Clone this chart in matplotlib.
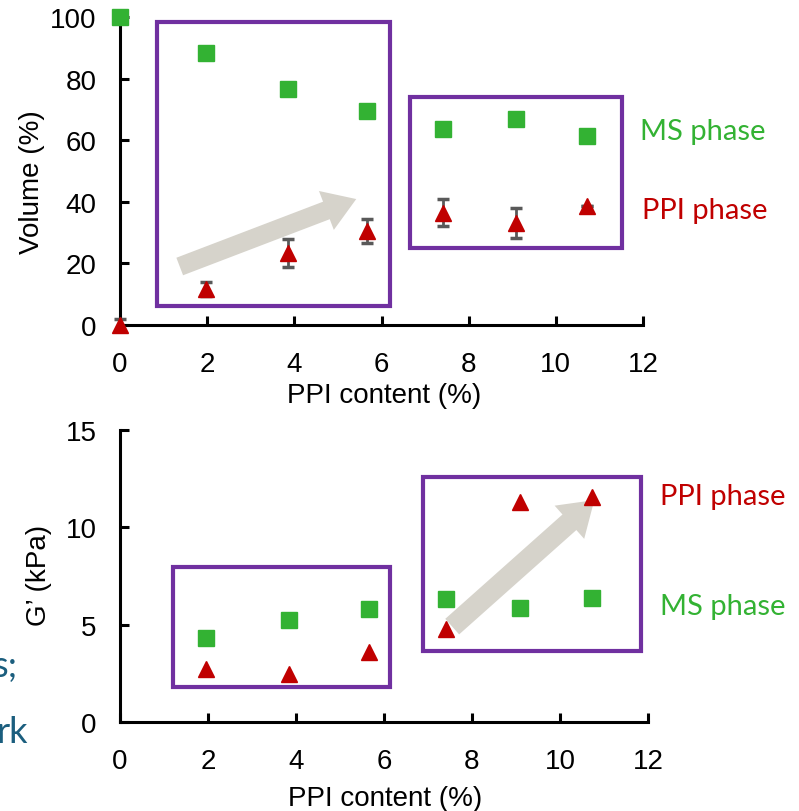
import matplotlib
matplotlib.use('Agg')
from matplotlib import pyplot as plt
from matplotlib.patches import Rectangle

# data
ppi_top = [0.0, 1.97, 3.85, 5.66, 7.41, 9.08, 10.71]
ms_vol = [100.0, 88.3, 76.6, 69.5, 63.6, 66.9, 61.4]
ppi_vol = [0.0, 11.7, 23.4, 30.5, 36.4, 33.1, 38.6]
ppi_vol_err = [2.0, 2.3, 4.6, 3.9, 4.4, 5.0, 0.0]

ppi_bot = [1.95, 3.84, 5.66, 7.41, 9.09, 10.73]
ms_g = [4.31, 5.24, 5.80, 6.32, 5.86, 6.37]
ppi_g = [2.72, 2.47, 3.60, 4.78, 11.30, 11.56]

x_ticks = [0, 2, 4, 6, 8, 10, 12]
vol_ticks = [0, 20, 40, 60, 80, 100]
g_ticks = [0, 5, 10, 15]

GREEN = '#33B233'
RED = '#C00000'
PURPLE = '#7030A0'
ARROW = '#D6D3CB'
TEAL = '#1B5E7E'
CAL = ['Lato', 'DejaVu Sans']  # stand-in for the calibri-like annotation font

plt.rcParams['font.family'] = ['Liberation Sans', 'DejaVu Sans']

fig = plt.figure(figsize=(7.99, 8.12), dpi=100)
ax1 = fig.add_axes([0.1502, 0.5985, 0.6546, 0.3793])
ax2 = fig.add_axes([0.1502, 0.1096, 0.6608, 0.3596])


def style(ax, yticks, ylim):
    for s in ['top', 'right']:
        ax.spines[s].set_visible(False)
    for s in ['left', 'bottom']:
        ax.spines[s].set_linewidth(2.2)
    ax.set_xlim(0, 12)
    ax.set_ylim(*ylim)
    ax.set_xticks(x_ticks)
    ax.set_yticks(yticks)
    ax.tick_params(direction='in', length=6.5, width=2.2, labelsize=20, colors='black')
    ax.tick_params(axis='x', pad=19)
    ax.tick_params(axis='y', pad=17)


# --- top panel: volume
style(ax1, vol_ticks, (0, 100))
ax1.errorbar(ppi_top, ppi_vol, yerr=ppi_vol_err, fmt='none', ecolor='#595959',
             elinewidth=2, capsize=4.5, capthick=2.5, zorder=3, clip_on=False)
ax1.plot(ppi_top, ms_vol, 's', color=GREEN, ms=11.5, zorder=4, clip_on=False)
ax1.plot(ppi_top, ppi_vol, '^', color=RED, ms=12, zorder=4, clip_on=False)
ax1.add_patch(Rectangle((0.85, 6.2), 5.34, 92.2, fill=False, ec=PURPLE, lw=3, zorder=2, clip_on=False))
ax1.add_patch(Rectangle((6.65, 25.0), 4.86, 49.0, fill=False, ec=PURPLE, lw=3, zorder=2, clip_on=False))
ax1.annotate('', xy=(5.42, 40.9), xytext=(1.37, 19.0),
             arrowprops=dict(arrowstyle='simple,head_width=3.0,head_length=2.3,tail_width=1.35',
                             mutation_scale=10, color=ARROW, lw=0, shrinkA=0, shrinkB=0), zorder=2)
ax1.text(11.93, 63, 'MS phase', color=GREEN, fontsize=21, family=CAL,
         va='center', ha='left', clip_on=False)
ax1.text(11.97, 37.3, 'PPI phase', color=RED, fontsize=21, family=CAL,
         va='center', ha='left', clip_on=False)
ax1.set_xlabel('PPI content (%)', fontsize=20)
ax1.set_ylabel('Volume (%)', fontsize=20)
ax1.xaxis.set_label_coords(0.505, -0.185)
ax1.yaxis.set_label_coords(-0.143, 0.468)

# --- bottom panel: G'
style(ax2, g_ticks, (0, 15))
ax2.plot(ppi_bot, ms_g, 's', color=GREEN, ms=11.5, zorder=4, clip_on=False)
ax2.plot(ppi_bot, ppi_g, '^', color=RED, ms=12, zorder=4, clip_on=False)
ax2.add_patch(Rectangle((1.2, 1.8), 4.94, 6.16, fill=False, ec=PURPLE, lw=3, zorder=2, clip_on=False))
ax2.add_patch(Rectangle((6.89, 3.65), 4.95, 8.93, fill=False, ec=PURPLE, lw=3, zorder=2, clip_on=False))
ax2.annotate('', xy=(10.78, 11.4), xytext=(7.55, 4.9),
             arrowprops=dict(arrowstyle='simple,head_width=3.2,head_length=2.4,tail_width=1.5',
                             mutation_scale=10, color=ARROW, lw=0, shrinkA=0, shrinkB=0), zorder=2)
ax2.text(12.27, 11.6, 'PPI phase', color=RED, fontsize=21, family=CAL,
         va='center', ha='left', clip_on=False)
ax2.text(12.27, 5.96, 'MS phase', color=GREEN, fontsize=21, family=CAL,
         va='center', ha='left', clip_on=False)
ax2.set_xlabel('PPI content (%)', fontsize=20)
ax2.set_ylabel('G\u2019 (kPa)', fontsize=20)
ax2.xaxis.set_label_coords(0.502, -0.216)
ax2.yaxis.set_label_coords(-0.129, 0.507)

# cut-off text fragments at the left edge
fig.text(18 / 799, 1 - 677 / 812, 's;', color=TEAL, fontsize=26, family=CAL,
         ha='right', va='baseline')
fig.text(28 / 799, 1 - 743 / 812, 'rk', color=TEAL, fontsize=26, family=CAL,
         ha='right', va='baseline')

fig.savefig('out.png', dpi=100)
